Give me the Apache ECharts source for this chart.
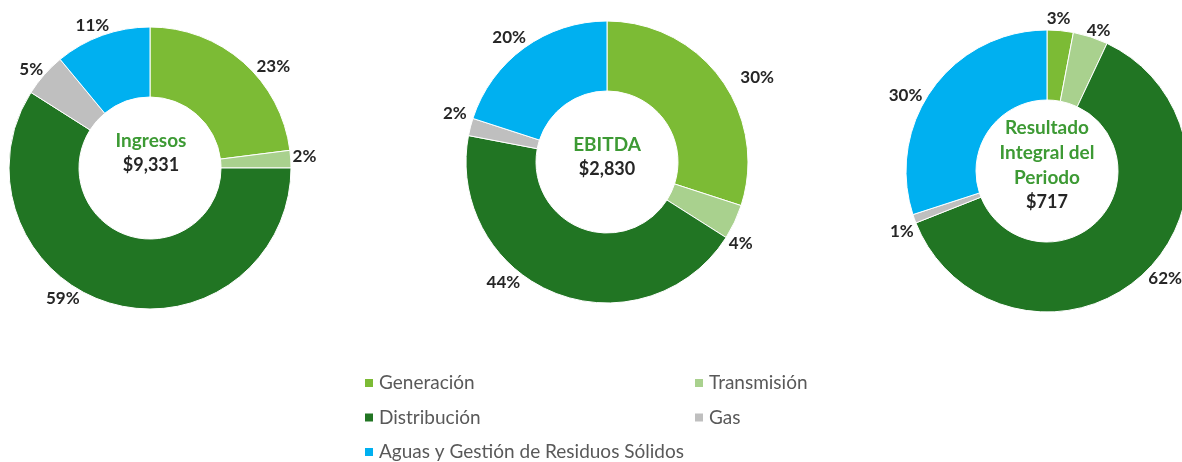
<!DOCTYPE html>
<html>
<head>
<meta charset="utf-8">
<script src="https://cdn.jsdelivr.net/npm/echarts@6/dist/echarts.min.js"></script>
<style>
  html, body { margin: 0; padding: 0; background: #fff; }
  #main { width: 1182px; height: 462px; }
</style>
</head>
<body>
<div id="main"></div>
<script>
// categorias (orden de las rebanadas, en sentido horario desde arriba)
var categories = ['Generación', 'Transmisión', 'Distribución', 'Gas', 'Aguas y Gestión de Residuos Sólidos'];
var colors = ['#7cbb35', '#a9d18e', '#217523', '#bfbfbf', '#00b0f0'];

// participacion % por segmento
var ingresos = [23, 2, 59, 5, 11];
var ebitda = [30, 4, 44, 2, 20];
var resultado = [3, 4, 62, 1, 30];

var chartTitles = ['Ingresos', 'EBITDA', 'Resultado\nIntegral del\nPeriodo'];
var totals = ['$9,331', '$2,830', '$717'];

// centros de cada dona
var centers = [[150, 168], [607, 162], [1047, 171]];

// ubicacion de las etiquetas: [angulo en grados, distancia al centro]
var labelPolar = [
  [[39.6, 160], [4.8, 155], [-124, 156], [140, 155], [111.8, 155]],
  [[29.8, 173], [-31, 156], [-131, 158], [162, 160], [128, 159]],
  [[85.7, 154], [70, 151], [-42, 159], [-157.6, 157], [151.5, 161]]
];

var FONT = 'Lato, "Open Sans", sans-serif';

function toData(values) {
  return values.map(function (v, i) {
    return { name: categories[i], value: v, itemStyle: { color: colors[i] } };
  });
}

function makePie(values, idx) {
  var c = centers[idx];
  return {
    type: 'pie',
    center: c,
    radius: [71, 141],
    startAngle: 90,
    clockwise: true,
    avoidLabelOverlap: false,
    itemStyle: { borderColor: '#fff', borderWidth: 1 },
    label: {
      show: true,
      position: 'outside',
      formatter: '{c}%',
      color: '#262626',
      fontFamily: FONT,
      fontWeight: 'bold',
      fontSize: 17
    },
    labelLine: { show: false },
    // etiquetas colocadas como en el original
    labelLayout: function (params) {
      var p = labelPolar[params.seriesIndex][params.dataIndex];
      var a = p[0] * Math.PI / 180;
      return {
        x: c[0] + p[1] * Math.cos(a),
        y: c[1] - p[1] * Math.sin(a) + 1,
        align: 'center',
        verticalAlign: 'middle'
      };
    },
    emphasis: { disabled: true },
    data: toData(values)
  };
}

function makeTitle(text, sub, x, top) {
  return {
    text: text,
    subtext: sub,
    left: x,
    top: top,
    textAlign: 'center',
    itemGap: 0,
    padding: 0,
    textStyle: { color: '#3d9a34', fontFamily: FONT, fontWeight: 'bold', fontSize: 19, lineHeight: 25 },
    subtextStyle: { color: '#262626', fontFamily: FONT, fontWeight: 'bold', fontSize: 18, lineHeight: 25 }
  };
}

var chart = echarts.init(document.getElementById('main'));

var legendBase = {
  orient: 'vertical',
  top: 373,
  height: 100,
  padding: 0,
  itemWidth: 10,
  itemHeight: 10,
  itemGap: 14.5,
  icon: 'rect',
  textStyle: { color: '#595959', fontFamily: FONT, fontSize: 19, lineHeight: 20 }
};

var option = {
  backgroundColor: '#fff',
  animation: false,
  title: [
    makeTitle(chartTitles[0], totals[0], 151, 128),
    makeTitle(chartTitles[1], totals[1], 607, 132),
    makeTitle(chartTitles[2], totals[2], 1047, 115)
  ],
  legend: [
    Object.assign({}, legendBase, { left: 363, data: [categories[0], categories[2], categories[4]] }),
    Object.assign({}, legendBase, { left: 693, data: [categories[1], categories[3]] })
  ],
  series: [
    makePie(ingresos, 0),
    makePie(ebitda, 1),
    makePie(resultado, 2)
  ]
};

chart.setOption(option);
</script>
</body>
</html>
